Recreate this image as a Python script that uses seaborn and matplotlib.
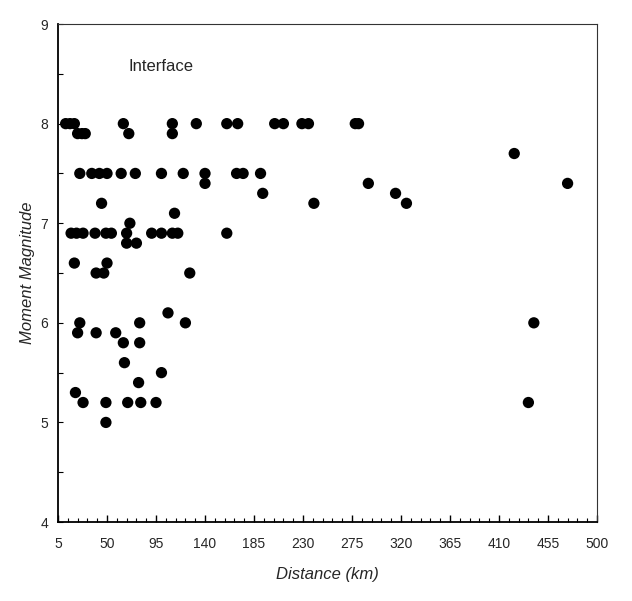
import matplotlib
matplotlib.use('Agg')
import matplotlib.pyplot as plt
import numpy as np
import pandas as pd
import seaborn as sns

sns.set_style('ticks')
plt.rcParams['font.family'] = ['Liberation Sans', 'DejaVu Sans']

# distance (km) / moment magnitude
distance = [12, 16, 20, 65, 110, 132, 160, 170, 204, 212, 229, 235, 278, 281,
            23, 27, 30, 70, 110,
            424,
            25, 36, 43, 50, 63, 76, 100, 120, 140, 169, 175, 191,
            140, 290, 473,
            193, 315,
            45, 240, 325,
            112,
            71,
            17, 22, 28, 39, 49, 54, 68, 91, 100, 110, 115, 160,
            68, 77,
            20, 50,
            40, 47, 126,
            106,
            25, 80, 122, 442,
            23, 40, 58,
            65, 80,
            66,
            100,
            79,
            21,
            28, 49, 69, 81, 95, 437,
            49]
magnitude = [8.0] * 14 + [7.9] * 5 + [7.7] + [7.5] * 12 + [7.4] * 3 + [7.3] * 2 \
    + [7.2] * 3 + [7.1] + [7.0] + [6.9] * 12 + [6.8] * 2 + [6.6] * 2 + [6.5] * 3 \
    + [6.1] + [6.0] * 4 + [5.9] * 3 + [5.8] * 2 + [5.6] + [5.5] + [5.4] + [5.3] \
    + [5.2] * 6 + [5.0]

x_ticks = [5, 50, 95, 140, 185, 230, 275, 320, 365, 410, 455, 500]
y_ticks = [4, 5, 6, 7, 8, 9]

df = pd.DataFrame({'dist': distance, 'mw': magnitude})

fig = plt.figure(figsize=(6.32, 6.01), dpi=100)
ax = fig.add_axes([0.0918, 0.1314, 0.8528, 0.8286])

sns.scatterplot(data=df, x='dist', y='mw', color='black', s=66,
                edgecolor='none', linewidth=0, ax=ax, legend=False)

ax.set_xlim(5, 500)
ax.set_ylim(4, 9)
ax.set_xticks(x_ticks)
ax.set_yticks(y_ticks)
ax.set_xticks(np.arange(5, 501, 9), minor=True)
ax.set_yticks(np.arange(4, 9.01, 0.5), minor=True)

ax.tick_params(axis='x', which='major', direction='in', length=5, width=1,
               pad=11, labelsize=10, color='black')
ax.tick_params(axis='x', which='minor', direction='in', length=3, width=0.8,
               color='black')
ax.tick_params(axis='y', which='both', direction='in', length=3.5, width=0.8,
               pad=7, labelsize=10, color='black')

for side in ['left', 'bottom']:
    ax.spines[side].set_linewidth(1.3)
    ax.spines[side].set_color('black')
for side in ['top', 'right']:
    ax.spines[side].set_visible(True)
    ax.spines[side].set_linewidth(0.8)
    ax.spines[side].set_color('#333333')

ax.set_xlabel('Distance (km)', fontsize=12, style='italic', labelpad=11)
ax.set_ylabel('Moment Magnitude', fontsize=12, style='italic', labelpad=4)

ax.text(100, 8.57, 'Interface', fontsize=12, ha='center', va='center')

fig.savefig('out.png', dpi=100, facecolor='white')
